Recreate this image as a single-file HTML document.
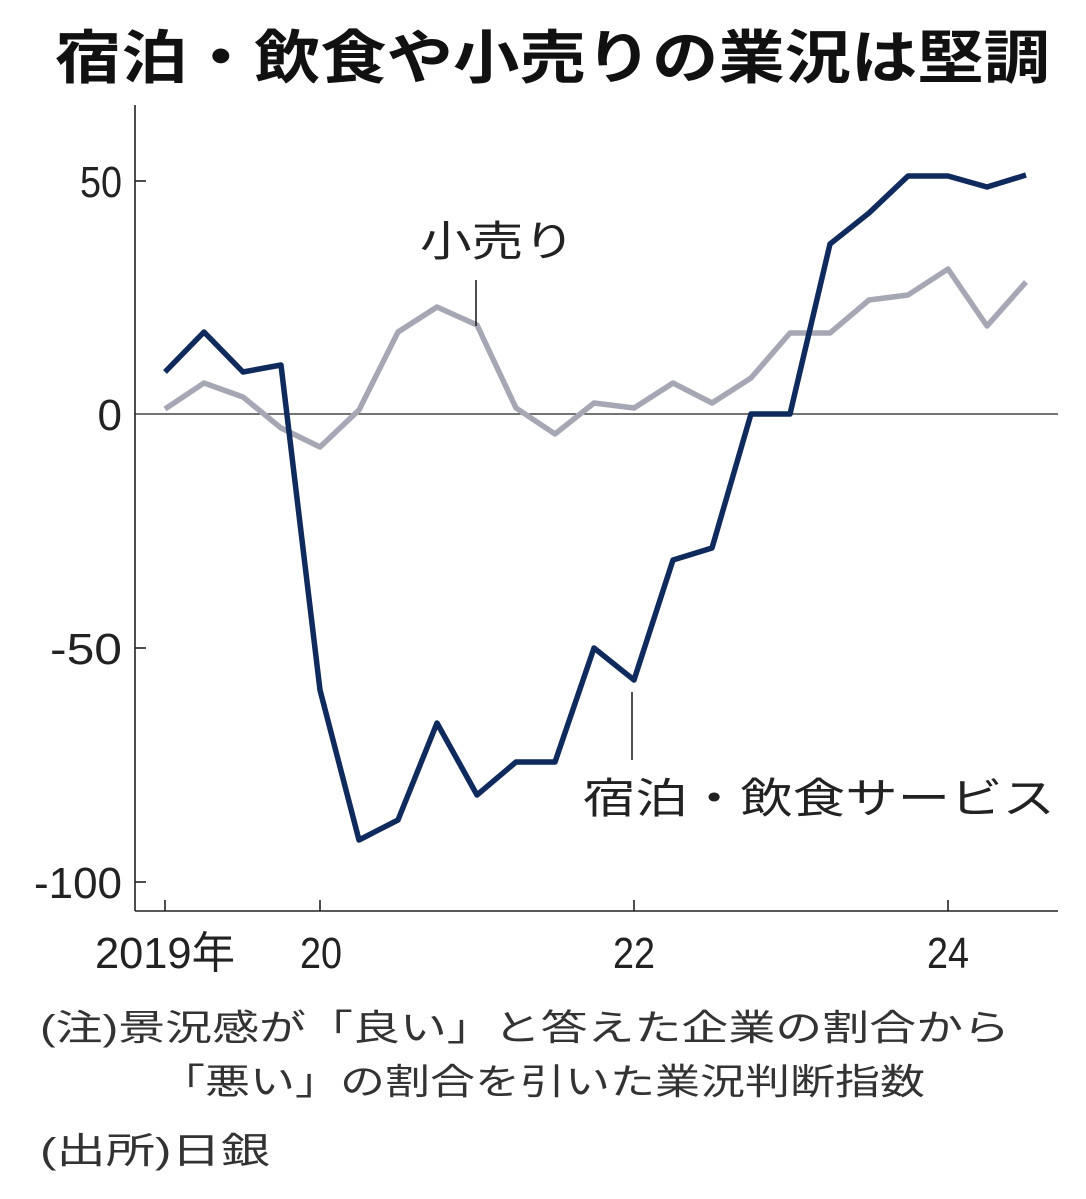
<!DOCTYPE html>
<html><head><meta charset="utf-8"><style>html,body{margin:0;padding:0;background:#fff}</style></head>
<body>
<svg width="1086" height="1194" xmlns="http://www.w3.org/2000/svg" font-family="'Liberation Sans','Noto Sans CJK JP',sans-serif">
<rect width="1086" height="1194" fill="#fff"/>
<text x="55" y="78" font-size="58" font-weight="bold" fill="#111" textLength="995" lengthAdjust="spacingAndGlyphs">宿泊・飲食や小売りの業況は堅調</text>
<g stroke="#222" stroke-width="1.6" fill="none">
<line x1="135" y1="105" x2="135" y2="911"/>
<line x1="135" y1="911" x2="1058" y2="911"/>
<line x1="135" y1="181" x2="146" y2="181"/>
<line x1="135" y1="648" x2="146" y2="648"/>
<line x1="135" y1="882" x2="146" y2="882"/>
<line x1="165" y1="911" x2="165" y2="900"/>
<line x1="320" y1="911" x2="320" y2="900"/>
<line x1="634" y1="911" x2="634" y2="900"/>
<line x1="948" y1="911" x2="948" y2="900"/>
</g>
<line x1="135" y1="414" x2="1058" y2="414" stroke="#222" stroke-width="1.2"/>
<g font-size="44" fill="#222" text-anchor="end" lengthAdjust="spacingAndGlyphs">
<text x="122" y="197" textLength="42" lengthAdjust="spacingAndGlyphs">50</text>
<text x="122" y="430">0</text>
<text x="122" y="664" textLength="72" lengthAdjust="spacingAndGlyphs">-50</text>
<text x="122" y="898" textLength="88" lengthAdjust="spacingAndGlyphs">-100</text>
</g>
<g font-size="44" fill="#222">
<text x="95" y="968" textLength="140" lengthAdjust="spacingAndGlyphs">2019年</text>
<text x="300" y="968" textLength="42" lengthAdjust="spacingAndGlyphs">20</text>
<text x="613" y="968" textLength="42" lengthAdjust="spacingAndGlyphs">22</text>
<text x="927" y="968" textLength="42" lengthAdjust="spacingAndGlyphs">24</text>
</g>
<polyline fill="none" stroke="#a6a7b4" stroke-width="5.5" stroke-linejoin="round" points="165,409 204,383 243,397 281,428 320,447 359,410 398,332 437,307 477,325 516,408 555,434 594,403 634,408 673,383 712,403 751,378 790,333 830,333 869,300 908,295 948,269 987,326 1026,282"/>
<polyline fill="none" stroke="#0f2a5c" stroke-width="5.5" stroke-linejoin="round" points="165,372 204,332 243,372 281,365 320,690 359,840 398,820 437,723 477,795 516,762 555,762 594,648 634,680 673,560 712,548 751,414 790,414 830,244 869,213 908,176 948,176 987,187 1026,175"/>
<line x1="476" y1="280" x2="476" y2="326" stroke="#222" stroke-width="1.6"/>
<line x1="632" y1="692" x2="632" y2="760" stroke="#222" stroke-width="1.6"/>
<g font-size="42" fill="#222">
<text x="420" y="256" textLength="155" lengthAdjust="spacingAndGlyphs">小売り</text>
<text x="583" y="813" textLength="472" lengthAdjust="spacingAndGlyphs">宿泊・飲食サービス</text>
</g>
<g font-size="36" fill="#333">
<text x="40" y="1040" textLength="970" lengthAdjust="spacingAndGlyphs">(注)景況感が「良い」と答えた企業の割合から</text>
<text x="160" y="1094" textLength="765" lengthAdjust="spacingAndGlyphs">「悪い」の割合を引いた業況判断指数</text>
<text x="40" y="1163" textLength="230" lengthAdjust="spacingAndGlyphs">(出所)日銀</text>
</g>
</svg>
</body></html>
